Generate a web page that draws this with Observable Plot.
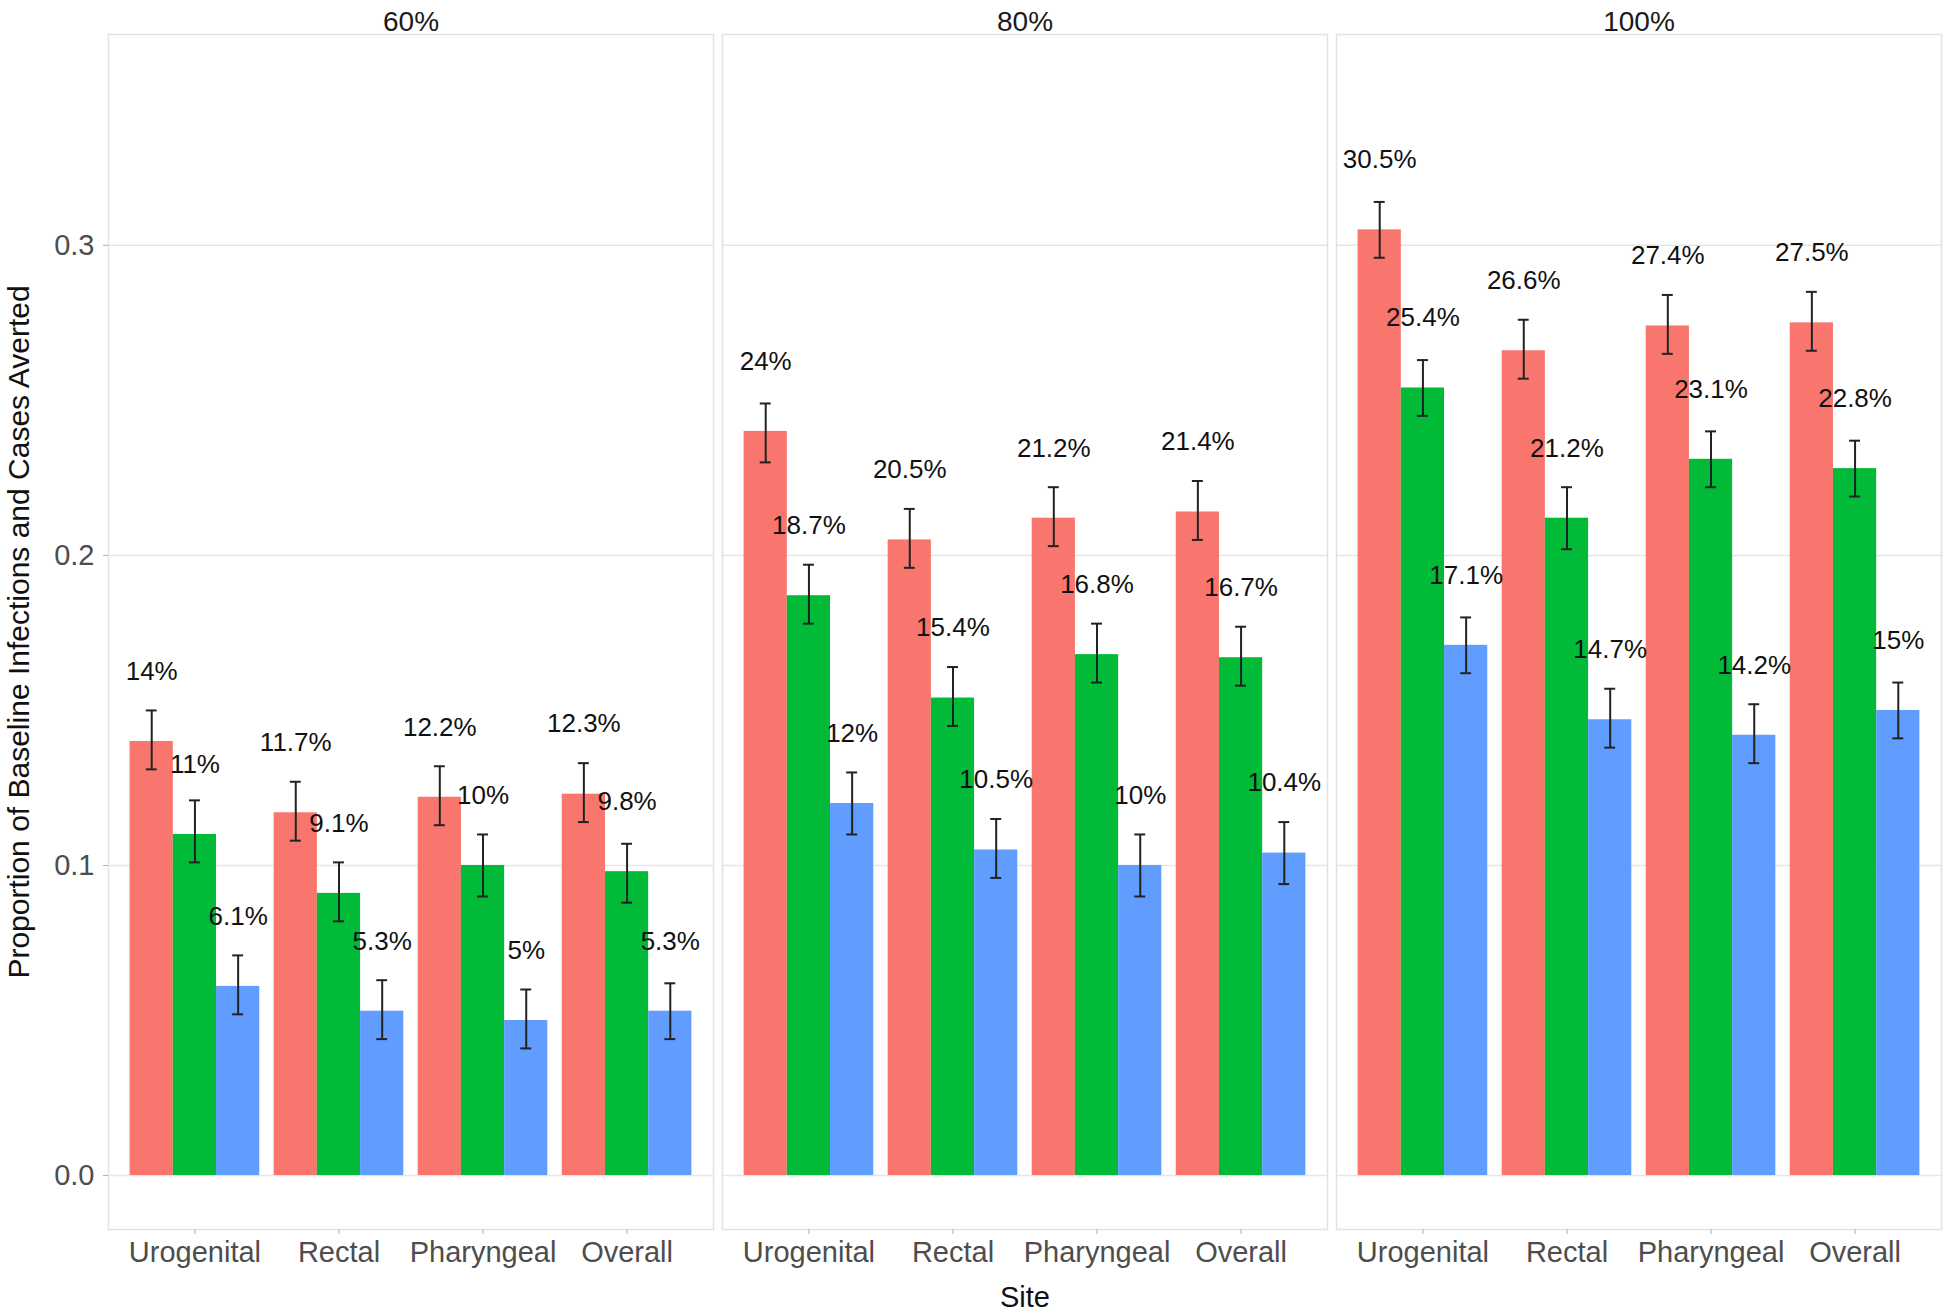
<!DOCTYPE html>
<html>
<head>
<meta charset="utf-8">
<script src="https://cdn.jsdelivr.net/npm/d3@7"></script>
<script src="https://cdn.jsdelivr.net/npm/@observablehq/plot@0.6"></script>
<style>
  html, body { margin: 0; padding: 0; background: #ffffff; }
  #chart { width: 1950px; height: 1315px; }
</style>
</head>
<body>
<div id="chart"></div>
<script>
// Facets (coverage), categories and series
const scenarios = ["60%", "80%", "100%"];
const sites = ["Urogenital", "Rectal", "Pharyngeal", "Overall"];
const seriesNames = ["Series 1", "Series 2", "Series 3"];
const seriesColors = ["#F8766D", "#00BA38", "#619CFF"];

// Values per scenario, ordered site by site: [series1, series2, series3]
const values60  = [0.140, 0.110, 0.061,  0.117, 0.091, 0.053,  0.122, 0.100, 0.050,  0.123, 0.098, 0.053];
const values80  = [0.240, 0.187, 0.120,  0.205, 0.154, 0.105,  0.212, 0.168, 0.100,  0.214, 0.167, 0.104];
const values100 = [0.305, 0.254, 0.171,  0.266, 0.212, 0.147,  0.274, 0.231, 0.142,  0.275, 0.228, 0.150];

// Error bar bounds (same order)
const lower60  = [0.131, 0.101, 0.052,  0.108, 0.082, 0.044,  0.113, 0.090, 0.041,  0.114, 0.088, 0.044];
const upper60  = [0.150, 0.121, 0.071,  0.127, 0.101, 0.063,  0.132, 0.110, 0.060,  0.133, 0.107, 0.062];
const lower80  = [0.230, 0.178, 0.110,  0.196, 0.145, 0.096,  0.203, 0.159, 0.090,  0.205, 0.158, 0.094];
const upper80  = [0.249, 0.197, 0.130,  0.215, 0.164, 0.115,  0.222, 0.178, 0.110,  0.224, 0.177, 0.114];
const lower100 = [0.296, 0.245, 0.162,  0.257, 0.202, 0.138,  0.265, 0.222, 0.133,  0.266, 0.219, 0.141];
const upper100 = [0.314, 0.263, 0.180,  0.276, 0.222, 0.157,  0.284, 0.240, 0.152,  0.285, 0.237, 0.159];

const yTicks = [0, 0.1, 0.2, 0.3];
const yTitle = "Proportion of Baseline Infections and Cases Averted";
const xTitle = "Site";

// Build a tidy table
const valueSets = [values60, values80, values100];
const lowerSets = [lower60, lower80, lower100];
const upperSets = [upper60, upper80, upper100];
const rows = [];
scenarios.forEach((sc, si) => {
  sites.forEach((site, i) => {
    seriesNames.forEach((s, k) => {
      const j = i * 3 + k;
      rows.push({
        scenario: sc, site, siteIndex: i, series: s, seriesIndex: k,
        value: valueSets[si][j], lo: lowerSets[si][j], hi: upperSets[si][j]
      });
    });
  });
});

const dodge = 0.3;      // group width 0.9 split into 3 bars
const half = dodge / 2;
const cap = 0.038;
const pos = d => d.siteIndex + (d.seriesIndex - 1) * dodge;
const pct = v => `${+(v * 100).toFixed(1)}%`;

const font = "'Liberation Sans', Arial, Helvetica, sans-serif";

const chart = Plot.plot({
  width: 1950,
  height: 1315,
  marginLeft: 108,
  marginRight: 9,
  marginTop: 34,
  marginBottom: 86,
  style: { fontFamily: font, background: "#ffffff", overflow: "visible" },
  fx: { domain: scenarios, paddingInner: 0.015, paddingOuter: 0 },
  x: { domain: [-0.6, 3.6], axis: null },
  y: { domain: [-0.0174, 0.368], axis: null },
  color: { domain: seriesNames, range: seriesColors },
  marks: [
    Plot.gridY(yTicks, { stroke: "#E6E6E6", strokeOpacity: 1, strokeWidth: 1.5 }),
    Plot.frame({ stroke: "#E2E2E2", strokeWidth: 1.5 }),
    Plot.axisFx({ anchor: "top", tickSize: 0, tickPadding: 4, fontSize: 28, fill: "#1A1A1A", label: null }),
    Plot.axisY({ ticks: yTicks, tickFormat: ".1f", tickSize: 5, tickPadding: 9, fontSize: 29,
                 fill: "#4D4D4D", stroke: "#B0B0B0", label: null }),
    Plot.axisX({ ticks: [0, 1, 2, 3], tickFormat: i => sites[i], tickSize: 5, tickPadding: 7,
                 fontSize: 29, fill: "#4D4D4D", stroke: "#B0B0B0", label: null }),
    Plot.rectY(rows, {
      fx: "scenario",
      x1: d => pos(d) - half, x2: d => pos(d) + half,
      y1: 0, y2: "value",
      fill: "series"
    }),
    Plot.ruleX(rows, { fx: "scenario", x: pos, y1: "lo", y2: "hi", stroke: "#222222", strokeWidth: 2 }),
    Plot.ruleY(rows, { fx: "scenario", x1: d => pos(d) - cap, x2: d => pos(d) + cap, y: "hi", stroke: "#222222", strokeWidth: 2 }),
    Plot.ruleY(rows, { fx: "scenario", x1: d => pos(d) - cap, x2: d => pos(d) + cap, y: "lo", stroke: "#222222", strokeWidth: 2 }),
    Plot.text(rows, {
      fx: "scenario", x: pos, y: "value", dy: -70,
      text: d => pct(d.value), fontSize: 26, fill: "#111111"
    }),
    Plot.text([yTitle], { fx: [scenarios[0]], frameAnchor: "left", textAnchor: "middle", rotate: -90, dx: -89, fontSize: 30, fill: "#111111" }),
    Plot.text([xTitle], { fx: [scenarios[1]], frameAnchor: "bottom", dy: 77, fontSize: 29, fill: "#111111" })
  ]
});

document.getElementById("chart").appendChild(chart);
</script>
</body>
</html>
